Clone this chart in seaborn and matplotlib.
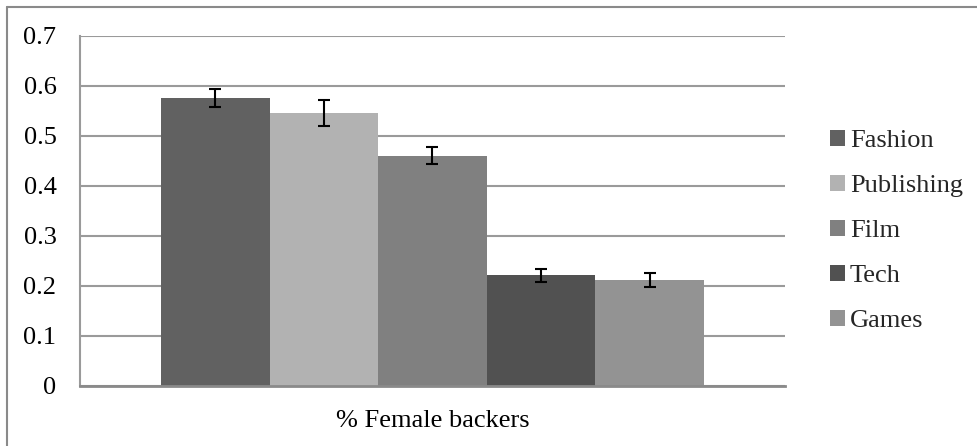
import matplotlib
matplotlib.use("Agg")
import matplotlib.pyplot as plt
import seaborn as sns
import pandas as pd
from matplotlib.lines import Line2D

# Data
categories = ["Fashion", "Publishing", "Film", "Tech", "Games"]
values = [0.576, 0.546, 0.461, 0.222, 0.212]
errors = [0.018, 0.026, 0.017, 0.013, 0.014]
group_label = "% Female backers"
colors = ["#616161", "#b2b2b2", "#808080", "#515151", "#939393"]
yticks = [0, 0.1, 0.2, 0.3, 0.4, 0.5, 0.6, 0.7]

df = pd.DataFrame({"group": [group_label] * len(categories),
                   "category": categories,
                   "value": values})

sns.set_theme(style="white")
plt.rcParams["font.family"] = ["Liberation Serif", "DejaVu Serif"]
FS = 19

fig = plt.figure(figsize=(9.78, 4.46), dpi=100)
ax = fig.add_axes([80 / 978, 60 / 446, 705 / 978, 350 / 446])

sns.barplot(data=df, x="group", y="value", hue="category", hue_order=categories,
            palette=colors, width=0.77, gap=0, errorbar=None, saturation=1,
            linewidth=0, ax=ax)

# error bars at bar centres
bars = [p for p in ax.patches if p.get_height() > 0][:len(categories)]
bars = sorted(bars, key=lambda p: p.get_x())
xs = [p.get_x() + p.get_width() / 2 for p in bars]
hs = [p.get_height() for p in bars]
ax.errorbar(xs, hs, yerr=errors, fmt="none", ecolor="black", elinewidth=1.5,
            capsize=4.5, capthick=1.5, zorder=5)

ax.set_xlim(-0.5, 0.5)
ax.set_ylim(0, 0.7)
ax.set_yticks(yticks)
ax.set_yticklabels([f"{t:g}" for t in yticks])
ax.set_xlabel("")
ax.set_ylabel("")
ax.tick_params(axis="y", length=0, pad=17, labelsize=FS, labelcolor="black")
ax.tick_params(axis="x", length=0, pad=17, labelsize=FS, labelcolor="black")
ax.yaxis.grid(True, color="#9a9a9a", linewidth=1.5)
ax.set_axisbelow(True)
for s in ["top", "right"]:
    ax.spines[s].set_visible(False)
ax.spines["left"].set_color("#9a9a9a")
ax.spines["left"].set_linewidth(1.5)
ax.spines["bottom"].set_color("#8a8a8a")
ax.spines["bottom"].set_linewidth(2)

# legend
handles, labels = ax.get_legend_handles_labels()
ax.legend(handles, labels, loc="center left", bbox_to_anchor=(830 / 978, 1 - 231 / 446),
          bbox_transform=fig.transFigure, frameon=False, fontsize=FS,
          handlelength=0.55, handleheight=0.55, handletextpad=0.2,
          labelspacing=0.86, borderaxespad=0, borderpad=0)

# outer border (top and left only visible)
fig.add_artist(Line2D([7 / 978, 1], [1 - 7 / 446, 1 - 7 / 446], transform=fig.transFigure,
                      color="#8a8a8a", linewidth=1.5))
fig.add_artist(Line2D([7 / 978, 7 / 978], [0, 1 - 7 / 446], transform=fig.transFigure,
                      color="#8a8a8a", linewidth=1.5))

fig.savefig("out.png", dpi=100, facecolor="white")
